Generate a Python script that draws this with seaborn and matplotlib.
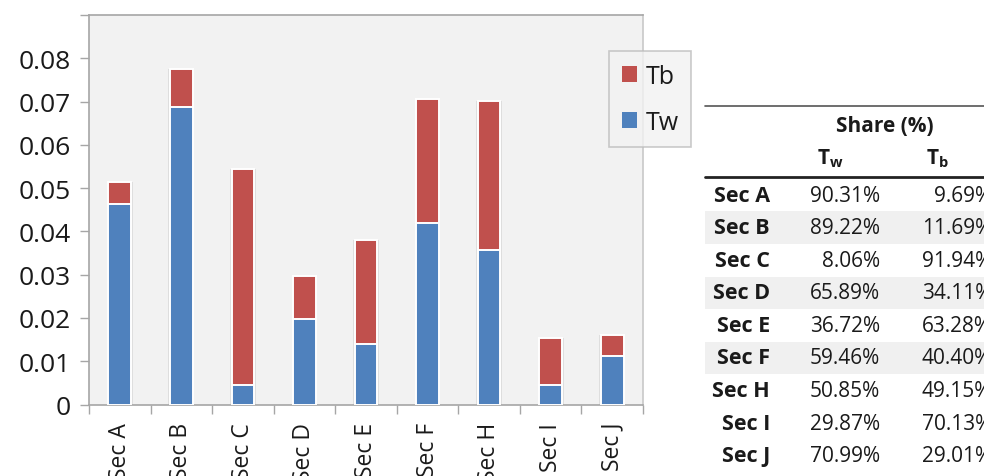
import matplotlib
matplotlib.use("Agg")
import matplotlib.pyplot as plt
from matplotlib.patches import Patch, Rectangle
from matplotlib.lines import Line2D
import seaborn as sns

# Section totals split into the two components
sections = ["Sec A", "Sec B", "Sec C", "Sec D", "Sec E", "Sec F", "Sec H", "Sec I", "Sec J"]
tw = [0.0464, 0.0688, 0.0044, 0.0198, 0.0140, 0.0420, 0.0356, 0.0045, 0.0113]
tb = [0.0051, 0.0088, 0.0501, 0.0100, 0.0241, 0.0287, 0.0345, 0.0109, 0.0048]

# Share table
tw_share = ["90.31%", "89.22%", "8.06%", "65.89%", "36.72%", "59.46%", "50.85%", "29.87%", "70.99%"]
tb_share = ["9.69%", "11.69%", "91.94%", "34.11%", "63.28%", "40.40%", "49.15%", "70.13%", "29.01%"]

y_ticks = [0, 0.01, 0.02, 0.03, 0.04, 0.05, 0.06, 0.07, 0.08, 0.09]
y_tick_labels = ["0", "0.01", "0.02", "0.03", "0.04", "0.05", "0.06", "0.07", "0.08", ""]

BLUE = "#4F81BD"
RED = "#C0504D"
TXT = "#1a1a1a"
SPINE = "#a6a6a6"

sns.set_style("white")
plt.rcParams["font.family"] = ["Open Sans", "DejaVu Sans"]
plt.rcParams["mathtext.fontset"] = "custom"
plt.rcParams["mathtext.rm"] = "Open Sans"
plt.rcParams["mathtext.bf"] = "Open Sans:bold"

W, H = 984, 477
fig = plt.figure(figsize=(W / 100, H / 100), dpi=100)


def fx(px):
    return px / W


def fy(py):
    return 1 - py / H


ax = fig.add_axes([fx(89), fy(405.5), fx(643 - 89), (405.5 - 16) / H])
ax.set_facecolor("#f2f2f2")

totals = [a + b for a, b in zip(tw, tb)]
# soft halo around each bar
sns.barplot(x=sections, y=totals, color="#dedede", width=0.42, saturation=1,
            linewidth=0, ax=ax, zorder=1)
sns.barplot(x=sections, y=totals, color=RED, width=0.37, saturation=1,
            edgecolor="white", linewidth=1.4, ax=ax, zorder=2)
sns.barplot(x=sections, y=tw, color=BLUE, width=0.37, saturation=1,
            edgecolor="white", linewidth=1.4, ax=ax, zorder=3)

ax.set_xlim(-0.5, len(sections) - 0.5)
ax.set_ylim(0, 0.09)
ax.set_xlabel("")
ax.set_ylabel("")

ax.set_yticks(y_ticks)
ax.set_yticklabels(y_tick_labels)
ax.tick_params(axis="y", direction="out", length=6.5, width=1, color=SPINE,
               labelsize=19, labelcolor=TXT, pad=6.5, left=True)

ax.set_xticks(range(len(sections)))
ax.set_xticklabels(sections, rotation=90)
ax.tick_params(axis="x", which="major", length=0, labelsize=16.5,
               labelcolor=TXT, pad=12.5)
ax.set_xticks([i - 0.5 for i in range(len(sections) + 1)], minor=True)
ax.tick_params(axis="x", which="minor", direction="out", length=6.5, width=1,
               color=SPINE, bottom=True)

for side in ["left", "bottom", "top"]:
    ax.spines[side].set_color(SPINE)
    ax.spines[side].set_linewidth(1.2)
ax.spines["right"].set_color("#c8c8c8")
ax.spines["right"].set_linewidth(1.2)
ax.grid(False)

handles = [Patch(facecolor=RED, edgecolor="none", label="Tb"),
           Patch(facecolor=BLUE, edgecolor="none", label="Tw")]
leg = fig.legend(handles=handles, loc="upper left",
                 bbox_to_anchor=(fx(609), fy(52)), frameon=True, fancybox=False,
                 fontsize=18, handlelength=0.6, handleheight=0.6,
                 handletextpad=0.35, labelspacing=0.85, borderpad=0.5,
                 borderaxespad=0)
leg.get_frame().set_facecolor("#f2f2f2")
leg.get_frame().set_edgecolor("#bdbdbd")
leg.get_frame().set_linewidth(1.2)
for t in leg.get_texts():
    t.set_color(TXT)

# Share table
row_y0, row_step = 196, 32.6
for i in range(len(sections)):
    if i in (1, 3, 5):
        cy = row_y0 + i * row_step
        fig.patches.append(Rectangle((fx(705), fy(cy + 16.3)), fx(W - 705),
                                     row_step / H, transform=fig.transFigure,
                                     facecolor="#f0f0f0", edgecolor="none",
                                     zorder=0))

fig.add_artist(Line2D([fx(705), fx(W)], [fy(107), fy(107)], color="#555555",
                      lw=1.2, transform=fig.transFigure))
fig.add_artist(Line2D([fx(705), fx(W)], [fy(178), fy(178)], color="#222222",
                      lw=2.0, transform=fig.transFigure))

fig.text(fx(885), fy(127), "Share (%)", ha="center", va="center",
         fontsize=15, fontweight="bold", color=TXT)
fig.text(fx(830), fy(159), r"$\mathbf{T}_\mathbf{w}$", ha="center",
         va="center", fontsize=15, color=TXT)
fig.text(fx(937), fy(159), r"$\mathbf{T}_\mathbf{b}$", ha="center",
         va="center", fontsize=15, color=TXT)

for i, sec in enumerate(sections):
    cy = fy(row_y0 + i * row_step)
    fig.text(fx(770), cy, sec, ha="right", va="center", fontsize=15.5,
             fontweight="bold", color=TXT)
    fig.text(fx(880), cy, tw_share[i], ha="right", va="center",
             fontsize=15, color=TXT)
    fig.text(fx(992), cy, tb_share[i], ha="right", va="center",
             fontsize=15, color=TXT)

fig.savefig("out.png", dpi=100, facecolor="white")
